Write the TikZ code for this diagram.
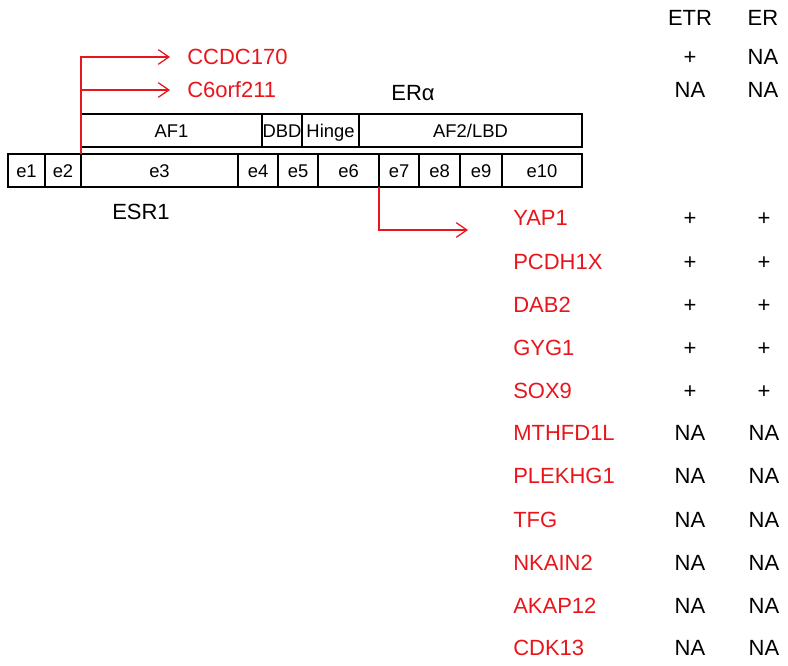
\documentclass[tikz,border=0pt]{standalone}
\usepackage{fontspec}
\setmainfont{Liberation Sans}
\usetikzlibrary{arrows.meta}
\tikzset{box/.style = {draw, line width = 0.95pt, inner sep = 0, outer sep = 0, minimum height = 24.75pt, text height = 9.9pt, text depth = 0pt, font = \fontsize{13.8}{16}\selectfont}}
\tikzset{lbl/.style = {inner sep = 0, text height = 11.8pt, text depth = 0pt, font = \fontsize{16.5}{19}\selectfont}}
\tikzset{gene/.style = {lbl, anchor = west, fred}}
\tikzset{fusion/.style = {fred, line width = 0.95pt, -{Straight Barb[length = 8pt, width = 11pt]}}}
\definecolor{fred}{RGB}{232, 22, 28}

\begin{document}
\begin{tikzpicture}[x = 0.75pt, y = -0.75pt]
    \useasboundingbox (0, 0) rectangle (788, 666);

    \foreach \n/\a/\b in {e1/8/45, e2/45/81, e3/81/238, e4/238/278, e5/278/318, e6/318/379, e7/379/419, e8/419/460, e9/460/502, e10/502/582} {
      \pgfmathsetmacro\w{(\b - \a) * 0.75}
      \node [box, minimum width = \w pt] (\n) at ({(\a + \b) / 2}, 170.5) {\n};
    }
    \foreach \n/\t/\a/\b in {af1/AF1/81/262, dbd/DBD/262/302, hinge/Hinge/302/359, lbd/{AF2/LBD}/359/582} {
      \pgfmathsetmacro\w{(\b - \a) * 0.75}
      \node [box, minimum width = \w pt] (\n) at ({(\a + \b) / 2}, 130.5) {\t};
    }
    \node [lbl] (esr1) at (141, 212) {ESR1};
    \node [lbl] (era) at (413, 93) {ERα};

    \node [lbl] (etr) at (690, 18) {ETR};
    \node [lbl] (er) at (763, 18) {ER};

    \node [gene] (CCDC170) at (187, 57) {CCDC170};
    \node [lbl] (CCDC170-etr) at (690, 57) {+};
    \node [lbl] (CCDC170-er) at (763, 57) {NA};
    \node [gene] (C6orf211) at (187, 90) {C6orf211};
    \node [lbl] (C6orf211-etr) at (690, 90) {NA};
    \node [lbl] (C6orf211-er) at (763, 90) {NA};

    \foreach \g/\y/\p/\q in {YAP1/218/+/+, PCDH1X/262/+/+, DAB2/305/+/+, GYG1/348/+/+, SOX9/391/+/+, MTHFD1L/433/NA/NA, PLEKHG1/476/NA/NA, TFG/520/NA/NA, NKAIN2/563/NA/NA, AKAP12/606/NA/NA, CDK13/648/NA/NA} {
      \node [gene] (\g) at (513, \y) {\g};
      \node [lbl] (\g-etr) at (690, \y) {\p};
      \node [lbl] (\g-er) at (764, \y) {\q};
    }

    \draw [fusion, shorten > = 12.75pt] (e3.north west) |- (CCDC170.west);
    \draw [fusion, shorten > = 12.75pt] (e3.north west |- C6orf211.west) -- (C6orf211.west);
    \coordinate (yap1in) at (468, 230);
    \draw [fusion] (e7.south west) |- (yap1in);
  \end{tikzpicture}
\end{document}
